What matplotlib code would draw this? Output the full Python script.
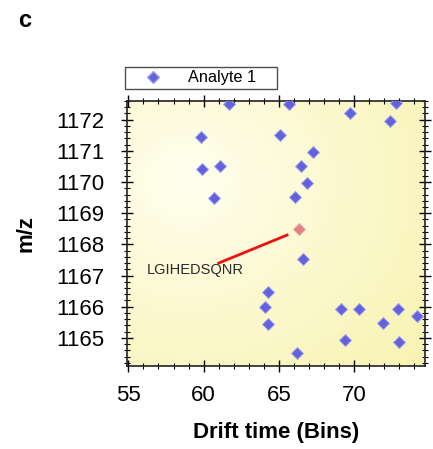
import matplotlib
matplotlib.use("Agg")
import matplotlib.pyplot as plt
import numpy as np
from matplotlib.ticker import MultipleLocator
from matplotlib.lines import Line2D

# Data
drift_time = [61.7, 65.7, 69.7, 72.4, 72.8, 59.8, 65.1, 67.3, 59.9, 61.1, 66.5,
              66.9, 60.7, 66.1, 66.6, 64.3, 64.07, 64.3, 66.2, 69.1, 70.3, 69.4,
              71.95, 72.9, 73.0, 74.2]
mz = [1172.5, 1172.5, 1172.2, 1171.95, 1172.55, 1171.43, 1171.5, 1170.96, 1170.42,
      1170.5, 1170.5, 1169.96, 1169.5, 1169.52, 1167.53, 1166.47, 1165.98, 1165.45,
      1164.5, 1165.94, 1165.94, 1164.94, 1165.48, 1165.94, 1164.88, 1165.7]
highlight_drift = [66.35]
highlight_mz = [1168.5]
peptide_label = "LGIHEDSQNR"
label_pos = (56.2, 1167.17)
line_start = (61.0, 1167.4)
line_end = (65.55, 1168.3)
legend_label = "Analyte 1"
x_ticks = [55, 60, 65, 70]
y_ticks = [1165, 1166, 1167, 1168, 1169, 1170, 1171, 1172]

FONT = "Liberation Sans"

fig = plt.figure(figsize=(4.33, 4.49), dpi=100)
ax = fig.add_axes([0.293, 0.185, 0.688, 0.59])

# gradient background
ny, nx = 120, 120
yy, xx = np.mgrid[0:1:ny*1j, 0:1:nx*1j]
d = np.sqrt(((xx - 0.2) / 1.0) ** 2 + ((yy - 0.7) / 1.0) ** 2)
d = np.clip(d / 1.05, 0, 1) ** 0.9
c0 = np.array([255, 255, 240]) / 255.0
c1 = np.array([249, 243, 178]) / 255.0
img = c0[None, None, :] * (1 - d[..., None]) + c1[None, None, :] * d[..., None]
ax.imshow(img, extent=[0, 1, 0, 1], transform=ax.transAxes, origin="lower",
          aspect="auto", zorder=0, interpolation="bilinear")

ax.plot(drift_time, mz, linestyle="none", marker="D", markersize=5.8,
        markerfacecolor="#6262dc", markeredgecolor="#a0a0f0", markeredgewidth=0.7,
        zorder=3, clip_on=True)
ax.plot(highlight_drift, highlight_mz, linestyle="none", marker="D", markersize=5.8,
        markerfacecolor="#e08282", markeredgecolor="#eeaaaa", markeredgewidth=0.7,
        zorder=3)
ax.plot([line_start[0], line_end[0]], [line_start[1], line_end[1]], color="#ee1111",
        lw=2, zorder=2)
ax.text(label_pos[0], label_pos[1], peptide_label, fontsize=10.5, color="#2a2a2a",
        ha="left", va="center", family=FONT)

ax.set_xlim(54.9, 74.7)
ax.set_ylim(1164.1, 1172.6)
ax.set_xticks(x_ticks)
ax.set_yticks(y_ticks)
ax.xaxis.set_minor_locator(MultipleLocator(1))
ax.yaxis.set_minor_locator(MultipleLocator(0.2))
ax.tick_params(axis="both", which="major", direction="inout", length=8, width=1,
               labelsize=16, top=True, right=True)
ax.tick_params(axis="x", which="major", pad=10)
ax.tick_params(axis="y", which="major", pad=12)
ax.tick_params(axis="both", which="minor", direction="inout", length=5, width=0.8,
               top=True, right=True)
for lab in ax.get_xticklabels() + ax.get_yticklabels():
    lab.set_family(FONT)
for s in ax.spines.values():
    s.set_linewidth(1.2)
    s.set_color("#222222")

ax.set_xlabel("Drift time (Bins)", fontsize=16, fontweight="bold", family=FONT,
              labelpad=11)
ax.set_ylabel("m/z", fontsize=16, fontweight="bold", family=FONT, labelpad=14)

handle = Line2D([], [], linestyle="none", marker="D", markersize=5.8,
                markerfacecolor="#6262dc", markeredgecolor="#a0a0f0")
leg = ax.legend([handle], [legend_label + "    "], loc="lower left",
                bbox_to_anchor=(-0.007, 1.047),
                frameon=True, fancybox=False, edgecolor="#222222",
                borderpad=0.2, handletextpad=0.6, handlelength=3.1, borderaxespad=0,
                prop={"family": FONT, "size": 11.7})
leg.get_frame().set_linewidth(1.0)

fig.text(0.042, 0.94, "c", fontsize=17, fontweight="bold", family=FONT)

fig.savefig("out.png", dpi=100)
